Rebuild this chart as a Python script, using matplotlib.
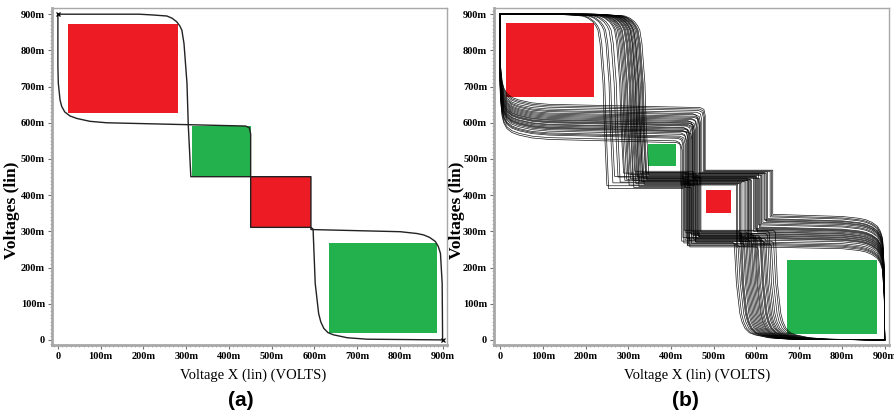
import matplotlib
matplotlib.use("Agg")
import matplotlib.pyplot as plt
from matplotlib.ticker import MultipleLocator, FuncFormatter
from matplotlib.patches import Rectangle

RED = "#ED1C24"
GREEN = "#22B14C"

# (a) nominal butterfly: curve 1 = [x1, level1, x2, level2, x3], curve 2 = [level1, x1, level2, x2, level3]  (mV)
nom_c1 = [305, 451, 451, 311, 597]
nom_c2 = [594, 451, 451, 592, 305]

# noise-margin squares: x0, y0, x1, y1 (mV)
boxes_a = [(24, 626, 282, 872), (313, 451, 451, 591), (451, 311, 592, 451), (634, 18, 887, 267)]
colors_a = [RED, GREEN, RED, GREEN]
boxes_b = [(13, 670, 219, 877), (347, 481, 412, 540), (481, 350, 540, 414), (672, 17, 882, 221)]
colors_b = [RED, GREEN, RED, GREEN]

# (b) Monte Carlo runs, curve 1 switching points / plateaus
mc_x1 = [248, 262, 275, 283, 290, 296, 301, 305, 309, 312, 316, 319, 322, 325, 328,
         331, 334, 338, 342, 244, 258, 270, 286, 293, 299, 307, 314, 320, 327, 336]
mc_l1 = [418, 452, 436, 461, 444, 428, 456, 440, 466, 432, 449, 424, 459, 438, 447,
         430, 463, 442, 455, 426, 434, 450, 441, 458, 446, 421, 453, 437, 462, 445]
mc_x2 = [430, 455, 442, 468, 438, 449, 461, 425, 452, 444, 470, 436, 458, 447, 433,
         464, 441, 450, 428, 457, 446, 439, 462, 453, 431, 448, 466, 443, 435, 459]
mc_l2 = [268, 290, 279, 301, 262, 284, 295, 273, 288, 257, 298, 281, 270, 292, 276,
         286, 265, 299, 283, 272, 294, 260, 289, 278, 303, 267, 285, 274, 296, 280]
mc_x3 = [552, 598, 575, 630, 561, 612, 587, 640, 569, 604, 581, 622, 548, 593, 616,
         578, 635, 565, 601, 590, 626, 557, 608, 584, 644, 572, 596, 619, 563, 610]

# (b) Monte Carlo runs, curve 2 switching points / plateaus
mc_m1 = [560, 612, 585, 637, 571, 598, 625, 553, 606, 590, 645, 578, 618, 566, 601,
         632, 582, 594, 548, 628, 609, 575, 641, 588, 615, 563, 603, 621, 580, 596]
mc_y1 = [428, 461, 445, 476, 437, 452, 469, 423, 457, 441, 480, 449, 466, 433, 455,
         472, 439, 447, 426, 463, 451, 435, 478, 443, 459, 430, 454, 467, 440, 450]
mc_m2 = [432, 458, 445, 466, 438, 451, 462, 428, 455, 442, 469, 447, 459, 435, 453,
         464, 440, 449, 430, 460, 446, 437, 467, 443, 456, 433, 452, 461, 441, 448]
mc_y2 = [560, 605, 583, 632, 571, 596, 620, 553, 610, 588, 638, 578, 615, 566, 600,
         626, 581, 593, 556, 623, 607, 575, 635, 586, 612, 563, 598, 618, 580, 602]
mc_m3 = [272, 318, 295, 340, 281, 306, 330, 262, 312, 290, 347, 285, 325, 268, 303,
         335, 288, 300, 258, 328, 310, 277, 343, 293, 321, 265, 308, 333, 283, 298]


def curve1(x1, l1, x2, l2, x3):
    # output vs input: three steps down, rounded outer knees
    xs = [0, x1 - 115, x1 - 85, x1 - 50, x1 - 38, x1 - 27, x1 - 20, x1 - 15, x1 - 10,
          x1 - 3, x1, x1 + 6,
          x2, x2, x3 - 5, x3, x3 + 5, x3 + 13, x3 + 18, x3 + 25, x3 + 35, x3 + 48,
          x3 + 80, x3 + 126, 900]
    ys = [900, 900, 898, 895, 889, 879, 868, 856, 819,
          709, 594, l1,
          l1, l2, l2, l2 - 5, 156, 73, 50, 32, 20, 14,
          6, 2, 0]
    return xs, ys


def curve2(l1, x1, l2, x2, l3):
    # mirrored curve: input vs output
    xs = [0, 0, 1, 5, 9, 16, 28, 44, 75, 114, x1 - 12, x1 - 3, x1, x1,
          x2, x2, 801, 840, 856, 870, 883, 890, 895, 899, 900]
    ys = [900, l1 + 160, l1 + 115, l1 + 69, l1 + 51, l1 + 36, l1 + 25, l1 + 18, l1 + 10,
          l1 + 6, l1 - 3, l1 - 8, l1 - 25, l2,
          l2, l3, l3 - 6, l3 - 11, l3 - 15, l3 - 22, l3 - 33, l3 - 47, l3 - 66, l3 - 149, 0]
    return xs, ys


def mlabel(v, pos):
    return "0" if abs(v) < 1e-6 else "%dm" % round(v)


def style(ax):
    ax.set_xlim(-14, 910)
    ax.set_ylim(-14, 917)
    ax.xaxis.set_major_locator(MultipleLocator(100))
    ax.yaxis.set_major_locator(MultipleLocator(100))
    ax.xaxis.set_minor_locator(MultipleLocator(10))
    ax.yaxis.set_minor_locator(MultipleLocator(10))
    ax.xaxis.set_major_formatter(FuncFormatter(mlabel))
    ax.yaxis.set_major_formatter(FuncFormatter(mlabel))
    for s in ax.spines.values():
        s.set_color("#a8a8a8")
        s.set_linewidth(1.0)
    ax.spines["left"].set_linewidth(2.0)
    ax.spines["bottom"].set_linewidth(2.0)
    ax.tick_params(which="major", length=3, width=0.8, color="#707070", pad=2)
    ax.tick_params(which="minor", length=1.5, width=0.5, color="#909090")
    for lab in ax.get_xticklabels() + ax.get_yticklabels():
        lab.set_fontfamily("Liberation Serif")
        lab.set_fontweight("bold")
        lab.set_fontsize(7.5)


fig = plt.figure(figsize=(8.95, 4.17), dpi=100)
ax1 = fig.add_axes([0.058, 0.1727, 0.4413, 0.808])
ax2 = fig.add_axes([0.552, 0.1727, 0.4413, 0.808])

for (x0, y0, x1, y1), c in zip(boxes_a, colors_a):
    ax1.add_patch(Rectangle((x0, y0), x1 - x0, y1 - y0, color=c, lw=0, zorder=1))
for (x0, y0, x1, y1), c in zip(boxes_b, colors_b):
    ax2.add_patch(Rectangle((x0, y0), x1 - x0, y1 - y0, color=c, lw=0, zorder=1))

xs, ys = curve1(*nom_c1)
ax1.plot(xs, ys, color="#222222", lw=1.0, zorder=2)
xs, ys = curve2(*nom_c2)
ax1.plot(xs, ys, color="#222222", lw=1.0, zorder=2)
ax1.plot([0, 900], [900, 0], ls="none", marker="x", ms=3.5, mew=0.9, color="black", zorder=3)

for i in range(len(mc_x1)):
    xs, ys = curve1(mc_x1[i], mc_l1[i], mc_x2[i], mc_l2[i], mc_x3[i])
    ax2.plot(xs, ys, color="black", lw=0.5, alpha=0.9, zorder=2)
    xs, ys = curve2(mc_m1[i], mc_y1[i], mc_m2[i], mc_y2[i], mc_m3[i])
    ax2.plot(xs, ys, color="black", lw=0.5, alpha=0.9, zorder=2)

style(ax1)
style(ax2)

for cx, tag in [(253, "(a)"), (697, "(b)")]:
    fig.text(cx / 895, 1 - 375 / 417, "Voltage X (lin) (VOLTS)", ha="center", va="center",
             family="Liberation Serif", fontsize=10.5)
    fig.text((cx - 12) / 895, 1 - 400 / 417, tag, ha="center", va="center",
             family="Liberation Sans", fontweight="bold", fontsize=15)
for cx in [12.5, 457]:
    fig.text(cx / 895, 1 - 210 / 417, "Voltages (lin)", rotation=90, ha="center", va="center",
             family="Liberation Serif", fontweight="bold", fontsize=12.5)

fig.savefig("out.png", dpi=100)
